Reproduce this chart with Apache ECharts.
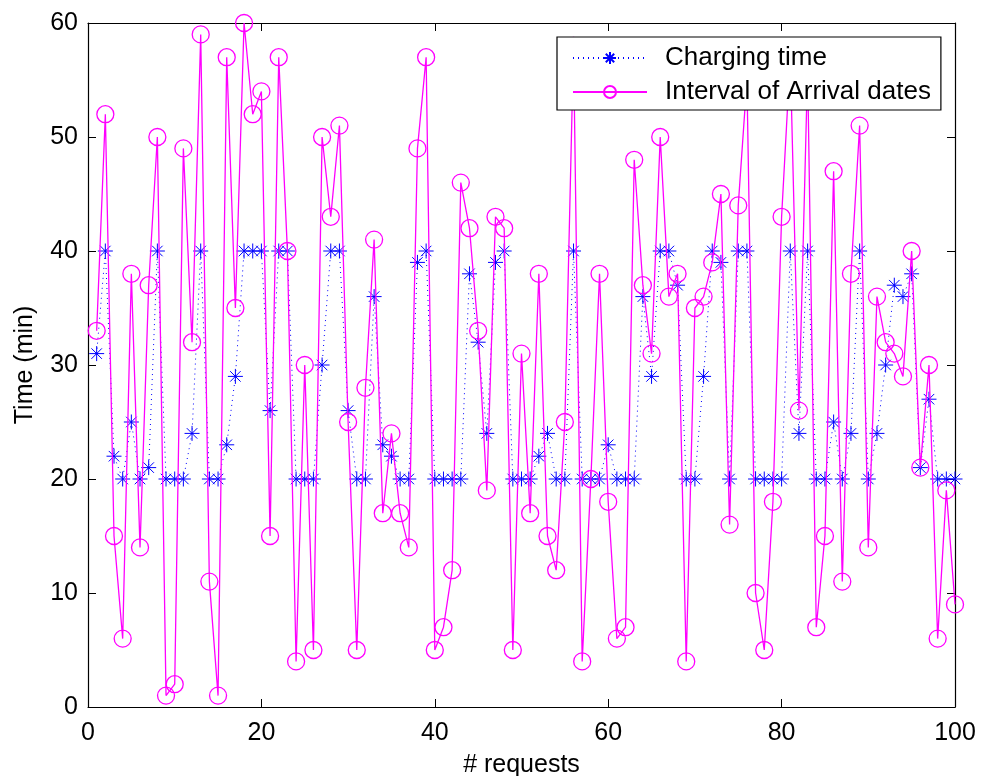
<!DOCTYPE html>
<html>
<head>
<meta charset="utf-8">
<script src="https://cdn.jsdelivr.net/npm/echarts@6/dist/echarts.min.js"></script>
<style>
html,body{margin:0;padding:0;background:#fff;overflow:hidden;}
#chart{width:981px;height:776px;}
</style>
</head>
<body>
<div id="chart"></div>
<script>
const requests = Array.from({length: 100}, (_, i) => i + 1);
const chargingTime = [
  31,40,22,20,25,20,21,40,20,20,
  20,24,40,20,20,23,29,40,40,40,
  26,40,40,20,20,20,30,40,40,26,
  20,20,36,23,22,20,20,39,40,20,
  20,20,20,38,32,24,39,40,20,20,
  20,22,24,20,20,40,20,20,20,23,
  20,20,20,36,29,40,40,37,20,20,
  29,40,39,20,40,40,20,20,20,20,
  40,24,40,20,20,25,20,24,40,20,
  24,30,37,36,38,21,27,20,20,20
];
const arrivalInterval = [
  33,52,15,6,38,14,37,50,1,2,
  49,32,59,11,1,57,35,60,52,54,
  15,57,40,4,30,5,50,43,51,25,
  5,28,41,17,24,17,14,49,57,5,
  7,12,46,42,33,19,43,42,5,31,
  17,38,15,12,25,58,4,20,38,18,
  6,7,48,37,31,50,36,38,4,35,
  36,39,45,16,44,55,10,5,18,43,
  57,26,56,7,15,47,11,38,51,14,
  36,32,31,29,40,21,30,6,19,9
];
const xTicks = [0, 20, 40, 60, 80, 100];
const yTicks = [0, 10, 20, 30, 40, 50, 60];
const seriesNames = ['Charging time', 'Interval of Arrival dates'];

const FONT = 'Liberation Sans';
const chart = echarts.init(document.getElementById('chart'), null, {renderer: 'canvas', width: 981, height: 776});
const asterisk = 'path://M5,0L5,10M0,5L10,5M1.5,1.5L8.5,8.5M1.5,8.5L8.5,1.5';

const baseAxis = {
  axisLine: {show: true, onZero: false, lineStyle: {color: '#000', width: 1.2}},
  axisTick: {show: true, inside: true, length: 8, lineStyle: {color: '#000', width: 1}},
  splitLine: {show: false}
};

chart.setOption({
  animation: false,
  backgroundColor: '#fff',
  grid: {left: 88, right: 26, top: 23, bottom: 69, containLabel: false, outerBoundsMode: 'none'},
  legend: {
    orient: 'vertical',
    left: 557, top: 37,
    backgroundColor: '#fff',
    borderColor: '#000', borderWidth: 1.2,
    padding: [8, 10, 5, 15],
    itemWidth: 74, itemHeight: 15, itemGap: 8,
    textStyle: {fontFamily: FONT, fontSize: 26, color: '#000', lineHeight: 26, padding: [0, 0, 0, 13]},
    data: seriesNames
  },
  xAxis: [
    Object.assign({}, baseAxis, {
      type: 'value', min: xTicks[0], max: xTicks[xTicks.length - 1], interval: 20, position: 'bottom',
      name: '# requests', nameLocation: 'middle', nameGap: 46,
      nameTextStyle: {fontFamily: FONT, fontSize: 25, color: '#000'},
      axisLabel: {fontFamily: FONT, fontSize: 25, color: '#000', margin: 14}
    }),
    Object.assign({}, baseAxis, {
      type: 'value', min: 0, max: 100, interval: 20, position: 'top',
      axisLabel: {show: false}
    })
  ],
  yAxis: [
    Object.assign({}, baseAxis, {
      type: 'value', min: yTicks[0], max: yTicks[yTicks.length - 1], interval: 10, position: 'left',
      name: 'Time (min)', nameLocation: 'middle', nameGap: 50, nameRotate: 90,
      nameTextStyle: {fontFamily: FONT, fontSize: 25, color: '#000'},
      axisLabel: {fontFamily: FONT, fontSize: 25, color: '#000', margin: 10}
    }),
    Object.assign({}, baseAxis, {
      type: 'value', min: 0, max: 60, interval: 10, position: 'right',
      axisLabel: {show: false}
    })
  ],
  series: [
    {
      name: seriesNames[0],
      type: 'line',
      xAxisIndex: 0, yAxisIndex: 0,
      data: requests.map((r, i) => [r, chargingTime[i]]),
      symbol: asterisk,
      symbolSize: 15,
      itemStyle: {color: 'rgba(0,0,255,0)', borderColor: '#0000ff', borderWidth: 1},
      lineStyle: {color: '#0000ff', width: 1, type: [1, 4]},
      z: 2
    },
    {
      name: seriesNames[1],
      type: 'line',
      xAxisIndex: 0, yAxisIndex: 0,
      data: requests.map((r, i) => [r, arrivalInterval[i]]),
      symbol: 'circle',
      symbolSize: 17,
      itemStyle: {color: 'rgba(255,255,255,0)', borderColor: '#ff00ff', borderWidth: 1.3},
      lineStyle: {color: '#ff00ff', width: 1.3},
      z: 3
    }
  ]
});
</script>
</body>
</html>
